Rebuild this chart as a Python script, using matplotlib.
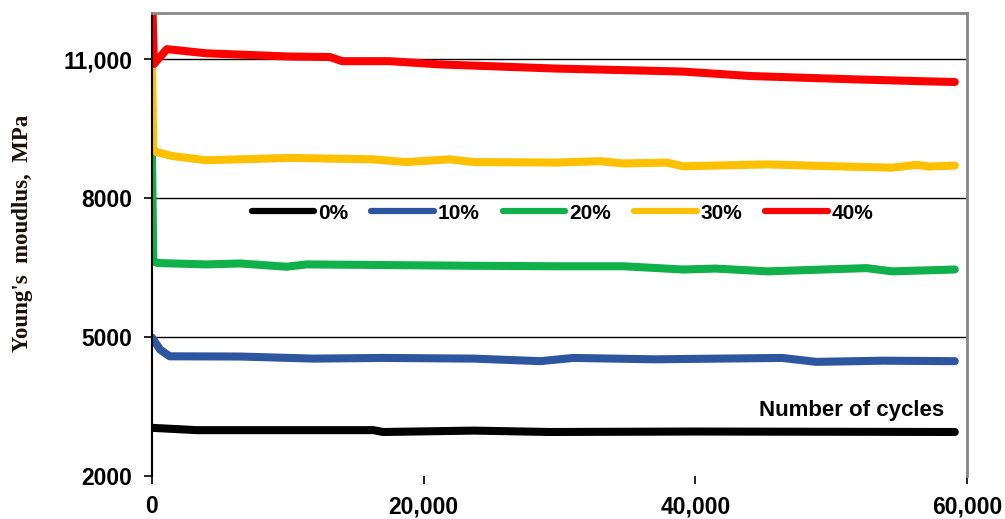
import numpy as np
import matplotlib.pyplot as plt
import matplotlib
matplotlib.rcParams['font.family'] = 'Liberation Sans'

# modulus vs number of cycles, one curve per content
labels = ['0%', '10%', '20%', '30%', '40%']
colors = ['#000000', '#2e55a0', '#10b04a', '#ffc000', '#ff0000']

x_0 = [0, 3300, 16300, 17000, 23700, 29300, 40000, 59100]
E_0 = [3040, 2990, 2990, 2950, 2980, 2950, 2960, 2950]

x_10 = [0, 600, 1300, 6500, 11900, 17000, 23700, 28600, 31000, 37000, 46400, 48900, 53800, 59100]
E_10 = [4990, 4730, 4585, 4580, 4535, 4550, 4535, 4480, 4550, 4520, 4550, 4465, 4490, 4480]

x_20 = [0, 100, 400, 4000, 6500, 9900, 11400, 23700, 29800, 34700, 39100, 41500, 45300, 52600, 54500, 59100]
E_20 = [9000, 6640, 6600, 6570, 6590, 6520, 6570, 6540, 6530, 6530, 6460, 6480, 6420, 6490, 6420, 6460]

x_30 = [0, 100, 300, 1500, 4000, 10150, 16300, 18700, 21900, 23700, 29800, 33000, 34700, 37900, 39100,
        45300, 50100, 54500, 56300, 57200, 59100]
E_30 = [11000, 9050, 9000, 8910, 8820, 8870, 8840, 8780, 8840, 8780, 8770, 8800, 8750, 8770, 8690,
        8730, 8690, 8660, 8720, 8685, 8705]

x_40 = [0, 150, 1100, 4000, 10150, 13100, 14000, 17500, 21200, 29800, 37100, 39100, 44000, 51400, 56300, 59100]
E_40 = [12500, 10900, 11220, 11130, 11060, 11050, 10960, 10960, 10890, 10800, 10750, 10735, 10640, 10570,
        10530, 10510]

xs = [x_0, x_10, x_20, x_30, x_40]
Es = [E_0, E_10, E_20, E_30, E_40]

yticks = [2000, 5000, 8000, 11000]
ytick_labels = ['2000', '5000', '8000', '11,000']
xticks = [0, 20000, 40000, 60000]
xtick_labels = ['0', '20,000', '40,000', '60,000']

fig = plt.figure(figsize=(10.05, 5.19), dpi=100)
ax = fig.add_axes([0.1512, 0.0829, 0.811, 0.892])

for y in yticks[1:]:
    ax.axhline(y, color='black', lw=1.0, zorder=1)

for x, E, c, l in zip(xs, Es, colors, labels):
    ax.plot(x, E, color=c, lw=5.8, label=l, solid_capstyle='round', solid_joinstyle='round', zorder=2)

ax.set_xlim(0, 60000)
ax.set_ylim(2000, 12000)
ax.set_yticks(yticks)
ax.set_yticklabels(ytick_labels)
ax.set_xticks(xticks)
ax.set_xticklabels(xtick_labels)
ax.tick_params(axis='both', direction='out', length=6, width=1.2, labelsize=16.5, pad=8)
for t in ax.get_xticklabels() + ax.get_yticklabels():
    t.set_fontweight('bold')

ax.spines['left'].set_color('black')
ax.spines['left'].set_linewidth(1.5)
ax.spines['bottom'].set_visible(False)
for s in ['top', 'right']:
    ax.spines[s].set_color('#888888')
    ax.spines[s].set_linewidth(2)

ax.set_ylabel("Young's  moudlus,  MPa", family='Liberation Serif', fontweight='bold',
              fontsize=16.5, color='#1a1008')
ax.yaxis.set_label_coords(-0.146, 0.525)

ax.text(0.972, 0.142, 'Number of cycles', transform=ax.transAxes, ha='right', va='center',
        fontsize=16, fontweight='bold')

leg = ax.legend(loc='center', bbox_to_anchor=(0.504, 0.568), ncol=5, frameon=False,
                prop={'weight': 'bold', 'size': 15}, handlelength=3.0, handletextpad=0.2,
                columnspacing=1.1)
for h in leg.get_lines():
    h.set_linewidth(4.5)

plt.savefig('out.png', dpi=100)
